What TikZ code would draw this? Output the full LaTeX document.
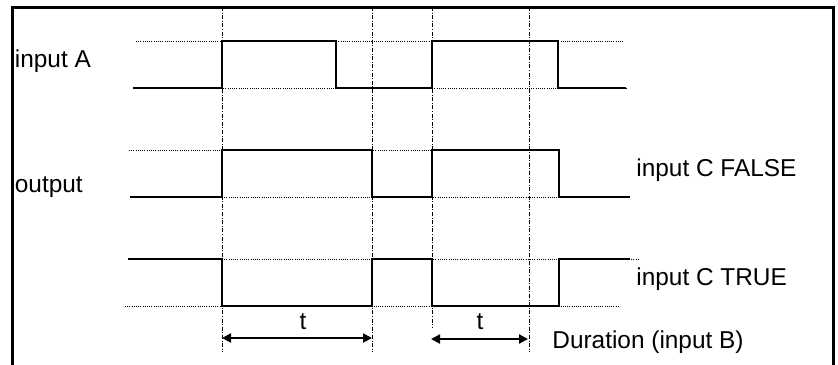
\documentclass[tikz,border=0pt]{standalone}
\usepackage{fontspec}
\setmainfont{Liberation Sans}
\usetikzlibrary{arrows.meta, positioning}
\tikzset{
    frame/.style={line width=1.5pt, line cap=rect},
    sig/.style={line width=1pt},
    lvl/.style={line width=0.5pt, dash pattern=on 0.5pt off 0.6pt},
    guide/.style={line width=0.5pt, dash pattern=on 2pt off 0.8pt on 0.5pt off 0.8pt},
    dimarr/.style={{Triangle[length=4.5pt, width=4.5pt]}-{Triangle[length=4.5pt, width=4.5pt]}, line width=1pt},
    lbl/.style={anchor=base west, inner sep=0pt, font=\fontsize{12.2}{14}\selectfont},
    tlbl/.style={anchor=base, inner sep=0pt, font=\fontsize{12.2}{14}\selectfont}
}

\begin{document}
\begin{tikzpicture}[x=0.5pt, y=-0.5pt]
    \useasboundingbox (0,0) rectangle (838,364);

    % frame, open at the bottom
    \draw[frame] (12,364) -- (12,7) -- (833,7) -- (833,364);

    % labels
    \node[lbl] (inA) at (14.5,67) {input A};
    \node[lbl] (outp) at (14.5,192) {output};
    \node[lbl] (cfalse) at (636,176) {input C FALSE};
    \node[lbl] (ctrue) at (636,285) {input C TRUE};
    \node[lbl] (dur) at (552,348) {Duration (input B)};

    % time guides
    \foreach \gx/\gy in {222/352, 372/352, 432/327, 529/352}
        \draw[guide] (\gx,7) -- (\gx,\gy);

    % level lines
    \draw[lvl] (136,41) -- (623,41);
    \draw[lvl] (133,88) -- (626,88);
    \draw[lvl] (129,150) -- (559,150);
    \draw[lvl] (222,197) -- (559,197);
    \draw[lvl] (222,259) -- (638,259);
    \draw[lvl] (125,306) -- (618,306);

    % input A
    \draw[sig] (133,88) -- (222,88) -- (222,41) -- (336,41) -- (336,88)
        -- (432,88) -- (432,41) -- (558,41) -- (558,88) -- (626,88);
    % output, input C FALSE
    \draw[sig] (130,197) -- (222,197) -- (222,150) -- (372,150) -- (372,197)
        -- (432,197) -- (432,150) -- (559,150) -- (559,197) -- (630,197);
    % output, input C TRUE
    \draw[sig] (128,259) -- (222,259) -- (222,306) -- (372,306) -- (372,259)
        -- (432,259) -- (432,306) -- (559,306) -- (559,259) -- (630,259);

    % durations
    \coordinate (d1l) at (222,338);
    \coordinate (d1r) at (372,338);
    \coordinate (d2l) at (431,339);
    \coordinate (d2r) at (528,339);
    \draw[dimarr] (d1l) -- (d1r);
    \draw[dimarr] (d2l) -- (d2r);
    \node[tlbl] (t1) at (303,329) {t};
    \node[tlbl] (t2) at (480,329) {t};
\end{tikzpicture}
\end{document}
